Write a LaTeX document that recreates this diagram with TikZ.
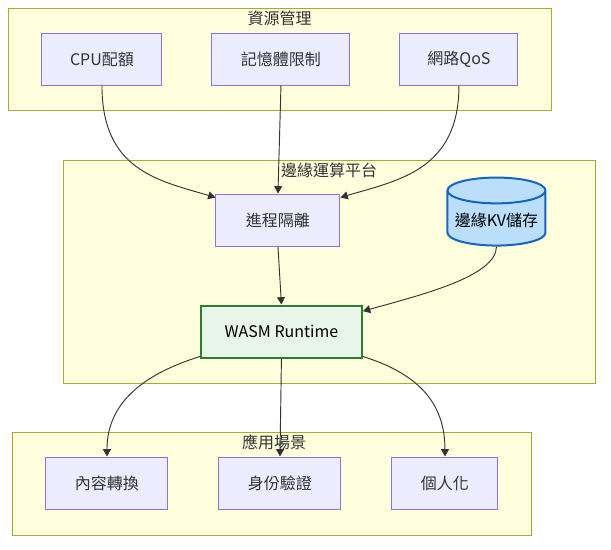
\documentclass[tikz,border=0pt]{standalone}
\usepackage{fontspec}
\setmainfont{Noto Sans CJK TC}
\usetikzlibrary{shapes.geometric, arrows.meta, positioning}
\definecolor{clusterfill}{HTML}{FFFFDE}
\definecolor{clusterline}{HTML}{AAAA33}
\definecolor{boxfill}{HTML}{ECECFF}
\definecolor{boxline}{HTML}{9370DB}
\definecolor{rtfill}{HTML}{E8F5E9}
\definecolor{rtline}{HTML}{2E7D32}
\definecolor{dbfill}{HTML}{BBDEFB}
\definecolor{dbline}{HTML}{1565C0}
\definecolor{textgray}{HTML}{333333}
\tikzstyle{cluster} = [rectangle,
			draw = clusterline,
			fill = clusterfill,
			line width = 0.75pt]
\tikzstyle{title} = [text = textgray,
			inner sep = 0pt,
			text centered]
\tikzstyle{box} = [rectangle,
			draw = boxline,
			fill = boxfill,
			text = textgray,
			line width = 0.75pt,
			inner xsep = 3pt,
			minimum height = 39pt,
			text centered]
\tikzstyle{runtime} = [box,
			draw = rtline,
			fill = rtfill,
			text = black,
			line width = 1.5pt]
\tikzstyle{store} = [cylinder,
			shape border rotate = 90,
			aspect = 0.3,
			draw = dbline,
			fill = dbfill,
			text = black,
			line width = 1.5pt,
			inner sep = 1pt,
			minimum width = 73.5pt,
			minimum height = 51pt]
\tikzstyle{link} = [draw = textgray,
			line width = 0.7pt,
			-{Triangle[length = 5.5pt, width = 6pt]}]

\begin{document}
\begin{tikzpicture}[x = 0.75pt, y = -0.75pt, font = \fontsize{12pt}{14pt}\selectfont]
	\useasboundingbox (0,0) rectangle (611,550);
	% subgraph frames
	\node [cluster, minimum width = 407.25pt, minimum height = 76.5pt] (res) at (279.5,59) {};
	\node [cluster, minimum width = 399pt, minimum height = 167.25pt] (plat) at (329,271.5) {};
	\node [cluster, minimum width = 389.25pt, minimum height = 77.25pt] (app) at (271.5,483.5) {};
	\node [title, below = 2.25pt of res.north] (res-title) {資源管理};
	\node [title, below = 2.25pt of plat.north] (plat-title) {邊緣運算平台};
	\node [title, below = 2.25pt of app.north, xshift = 1.9pt] (app-title) {應用場景};
	% resource row
	\node [box, minimum width = 103.5pt, xshift = 1.1pt] (mem) at (res.center) {記憶體限制};
	\node [box, minimum width = 90pt, left = 36.75pt of mem] (cpu) {CPU配額};
	\node [box, minimum width = 88.5pt, right = 36.75pt of mem] (qos) {網路QoS};
	% platform
	\node [box, minimum width = 93pt, below = 81pt of mem, xshift = -2.25pt] (proc) {進程隔離};
	\node [runtime, minimum width = 120.75pt, below = 43.5pt of proc, xshift = 2.6pt] (wasm) {WASM Runtime};
	\node [store, right = 79.5pt of proc] (kv) {邊緣KV儲存};
	% use cases
	\node [box, minimum width = 91.5pt, below = 73.5pt of wasm, xshift = -1.1pt] (auth) {身份驗證};
	\node [box, minimum width = 91.5pt, left = 37.5pt of auth] (conv) {內容轉換};
	\node [box, minimum width = 79.5pt, right = 37.5pt of auth] (pers) {個人化};
	% connectors
	\draw [link] (cpu.south) .. controls +(0,85) and +(-57,-17) .. ([yshift = -3pt]proc.north west);
	\draw [link] (mem.south) -- (proc.north);
	\draw [link] (qos.south) .. controls +(0,85) and +(57,-17) .. ([yshift = -3pt]proc.north east);
	\draw [link] (proc.south) -- (wasm.north);
	\draw [link] (kv.south) .. controls +(0,30) and +(57,-16) .. ([yshift = -5pt]wasm.north east);
	\draw [link] ([yshift = 1.5pt]wasm.south west) .. controls +(-51,16) and +(0,-57) .. (conv.north);
	\draw [link] (wasm.south) -- (auth.north);
	\draw [link] ([yshift = 1.5pt]wasm.south east) .. controls +(51,16) and +(0,-57) .. (pers.north);
\end{tikzpicture}
\end{document}
